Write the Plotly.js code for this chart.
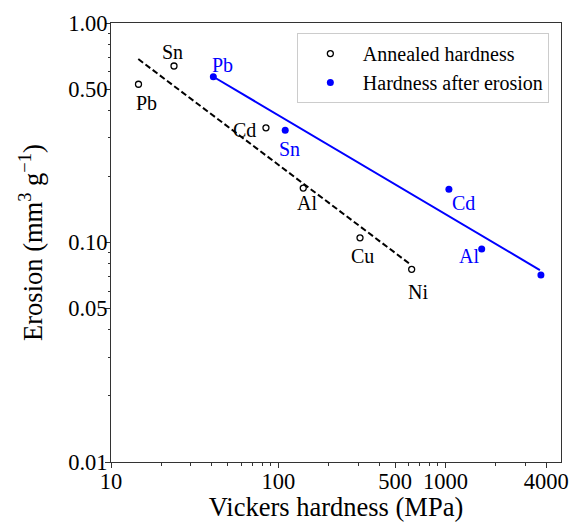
<!DOCTYPE html>
<html>
<head>
<meta charset="utf-8">
<script src="https://cdn.plot.ly/plotly-3.0.1.min.js"></script>
<style>html,body{margin:0;padding:0;background:#fff;}#chart{width:572px;height:522px;}</style>
</head>
<body>
<div id="chart"></div>
<script>
// Annealed hardness (MPa) and erosion (mm^3 g^-1)
const annealedMetals = ["Pb", "Sn", "Cd", "Al", "Cu", "Ni"];
const annealedHardness = [14.6, 23.8, 84.4, 141, 308, 627];
const annealedErosion = [0.526, 0.637, 0.333, 0.177, 0.105, 0.0755];

// Hardness after erosion
const erodedMetals = ["Pb", "Sn", "Cd", "Al", ""];
const erodedHardness = [40.9, 110, 1047, 1644, 3715];
const erodedErosion = [0.569, 0.325, 0.175, 0.0934, 0.0711];

// Fit lines (end points)
const annealedFitX = [14.56, 604];
const annealedFitY = [0.685, 0.0804];
const erodedFitX = [40.9, 3664];
const erodedFitY = [0.569, 0.0749];

// Ticks
const xTickVals = [10, 100, 500, 1000, 4000];
const xTickText = ["10", "100", "500", "1000", "4000"];
const xMinorVals = [20,30,40,50,60,70,80,90,200,300,400,600,700,800,900,2000,3000];
const yTickVals = [0.01, 0.05, 0.1, 0.5, 1];
const yTickText = ["0.01", "0.05", "0.10", "0.50", "1.00"];
const yMinorVals = [0.02,0.03,0.04,0.06,0.07,0.08,0.09,0.2,0.3,0.4,0.6,0.7,0.8,0.9];

const annealedLabelShift = [[8,-19],[-2,14],[-21,-2],[4,-15],[2,-18],[6,-23]];
const erodedLabelShift = [[9,12],[4,-19],[15,-14],[-13,-7],[0,0]];

const FONT = "Liberation Serif";
const BLUE = "#0000ff";

const traces = [
  {x: annealedFitX, y: annealedFitY, mode: "lines", line: {color: "#000", width: 2, dash: "6px,3px"}, showlegend: false, hoverinfo: "skip"},
  {x: erodedFitX, y: erodedFitY, mode: "lines", line: {color: BLUE, width: 2}, showlegend: false, hoverinfo: "skip"},
  {x: annealedHardness, y: annealedErosion, mode: "markers", name: "Annealed hardness",
   marker: {symbol: "circle-open", size: 6, color: "#000", line: {width: 1.3, color: "#000"}}},
  {x: erodedHardness, y: erodedErosion, mode: "markers", name: "Hardness after erosion",
   marker: {symbol: "circle", size: 7, color: BLUE}}
];

const annotations = [];
annealedMetals.forEach((m, i) => {
  annotations.push({x: Math.log10(annealedHardness[i]), y: Math.log10(annealedErosion[i]), xref: "x", yref: "y",
    text: m, showarrow: false, xshift: annealedLabelShift[i][0], yshift: annealedLabelShift[i][1],
    font: {family: FONT, size: 20, color: "#000"}});
});
erodedMetals.forEach((m, i) => {
  if (!m) return;
  annotations.push({x: Math.log10(erodedHardness[i]), y: Math.log10(erodedErosion[i]), xref: "x", yref: "y",
    text: m, showarrow: false, xshift: erodedLabelShift[i][0], yshift: erodedLabelShift[i][1],
    font: {family: FONT, size: 20, color: BLUE}});
});

const axisCommon = {
  type: "log", showgrid: false, zeroline: false, showline: true, linecolor: "#333", linewidth: 1, mirror: true,
  ticks: "outside", ticklen: 5, tickwidth: 1, tickcolor: "#333",
  tickfont: {family: FONT, size: 22.5, color: "#000"}
};

const layout = {
  width: 572, height: 522,
  margin: {l: 111, r: 11, t: 23, b: 60},
  paper_bgcolor: "#fff", plot_bgcolor: "#fff",
  font: {family: FONT, color: "#000"},
  xaxis: Object.assign({}, axisCommon, {
    range: [1, 3.69], tickmode: "array", tickvals: xTickVals, ticktext: xTickText, ticklabelstandoff: -6,
    minor: {tickmode: "array", tickvals: xMinorVals, ticks: "outside", ticklen: 2.5, tickcolor: "#333", showgrid: false},
    title: {text: "Vickers hardness (MPa)", font: {family: FONT, size: 26.5, color: "#000"}, standoff: 0}
  }),
  yaxis: Object.assign({}, axisCommon, {
    range: [-2, 0], tickmode: "array", tickvals: yTickVals, ticktext: yTickText, ticklabelstandoff: -7,
    minor: {tickmode: "array", tickvals: yMinorVals, ticks: "outside", ticklen: 2.5, tickcolor: "#333", showgrid: false},
    title: {text: "Erosion (mm<sup>3</sup> g<sup>\u22121</sup>)", font: {family: FONT, size: 26.5, color: "#000"}, standoff: 17}
  }),
  legend: {x: 0.413, y: 0.977, xanchor: "left", yanchor: "top", bgcolor: "#fff", bordercolor: "#ccc", borderwidth: 1,
    font: {family: FONT, size: 20, color: "#000"}, tracegroupgap: 0, itemwidth: 55},
  annotations: annotations,
  showlegend: true
};

Plotly.newPlot("chart", traces, layout, {displayModeBar: false, staticPlot: true});
</script>
</body>
</html>
